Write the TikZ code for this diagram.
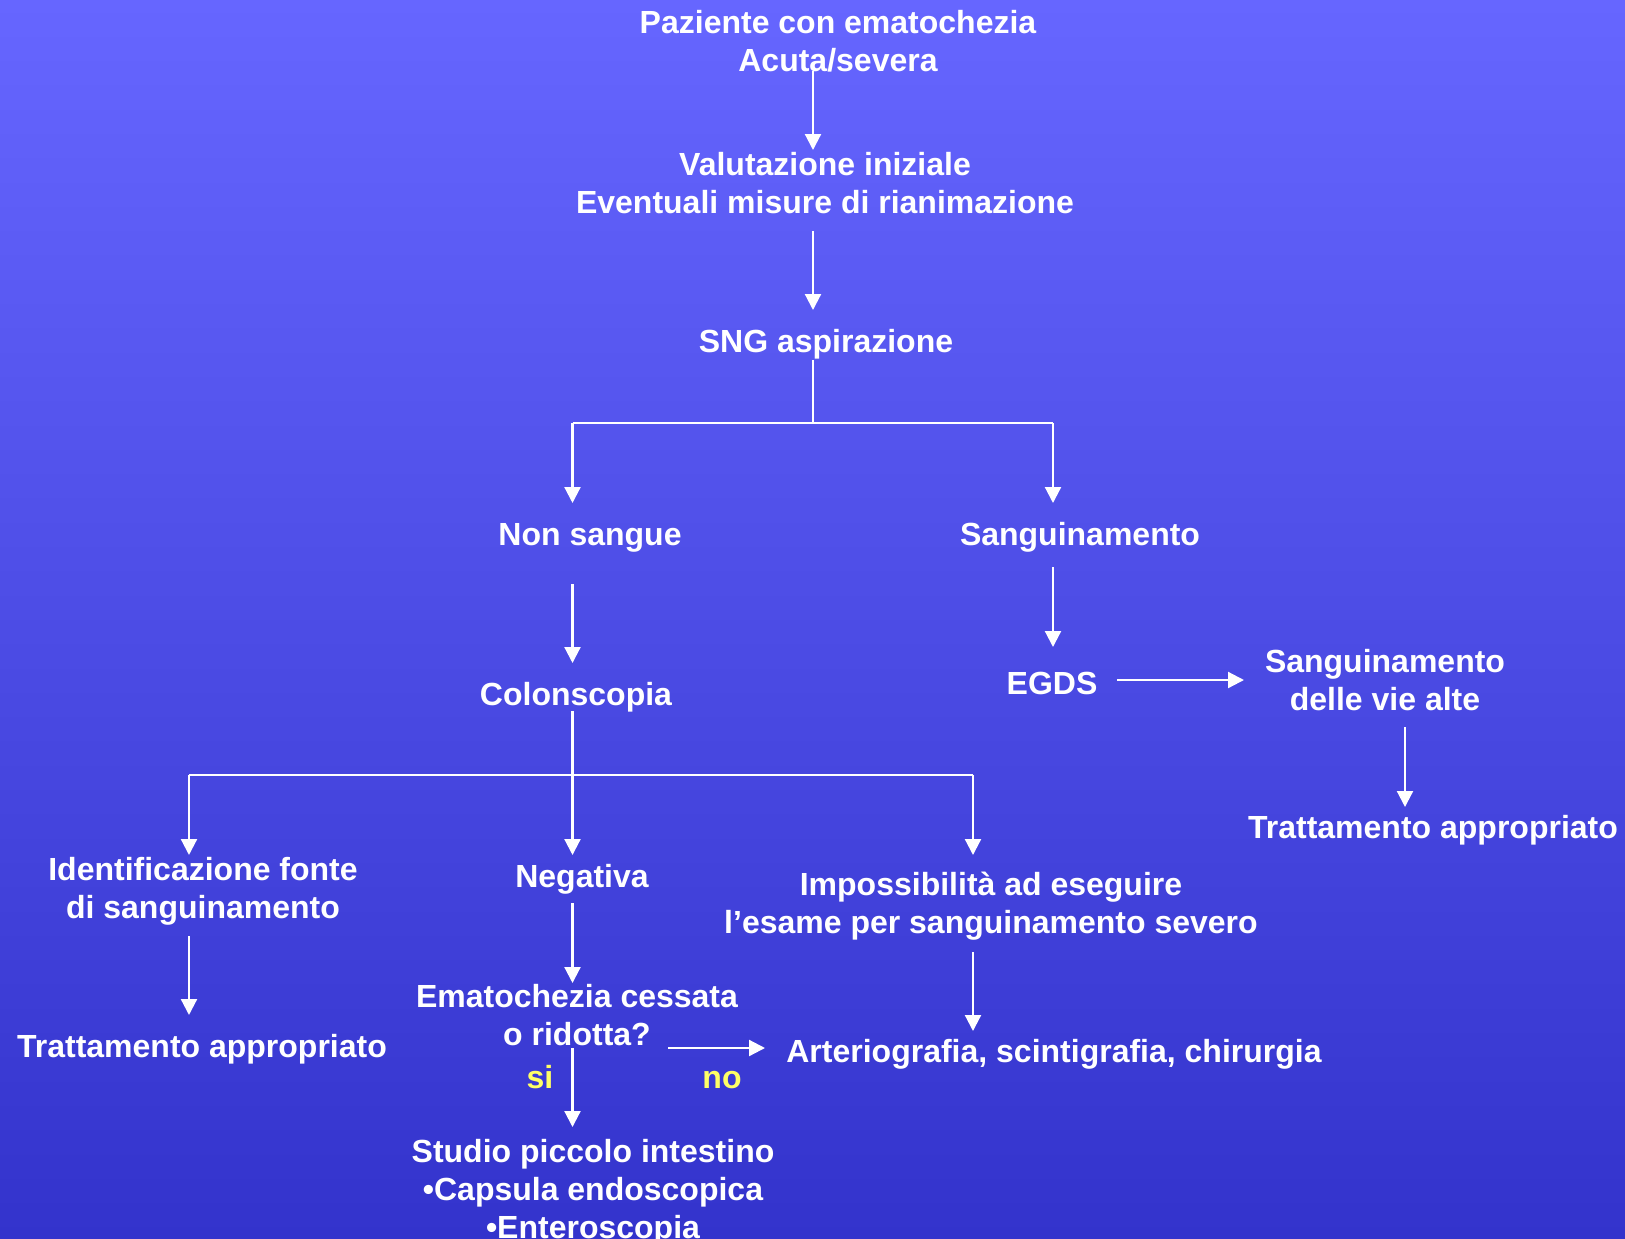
\documentclass[tikz,border=0pt]{standalone}
\usepackage{fontspec}
\setmainfont{Liberation Sans}
\usetikzlibrary{arrows.meta}
\definecolor{bgtop}{RGB}{102,102,255}
\definecolor{bgbot}{RGB}{51,51,204}
\definecolor{lbl}{RGB}{255,255,102}
\begin{document}
\begin{tikzpicture}[x=1pt,y=-1pt,
  txt/.style={anchor=base,inner sep=0pt,outer sep=0pt,align=center,text=white,
    font=\fontsize{32}{38}\selectfont\bfseries},
  ylab/.style={txt,text=lbl},
  conn/.style={draw=white,line width=2.2pt},
  arr/.style={conn,-{Triangle[width=16pt,length=16pt]}}]
\shade[top color=bgtop,bottom color=bgbot] (0,0) rectangle (1625,1239);
\useasboundingbox (0,0) rectangle (1625,1239);
% nodes (base anchor = baseline of the last line)
\node[txt] (paz) at (838,71) {Paziente con ematochezia\\Acuta/severa};
\node[txt] (val) at (825,213.5) {Valutazione iniziale\\Eventuali misure di rianimazione};
\node[txt] (sng) at (826,352) {SNG aspirazione};
\node[txt] (non) at (590,545) {Non sangue};
\node[txt] (sang) at (1080,545) {Sanguinamento};
\node[txt] (col) at (576,705) {Colonscopia};
\node[txt] (egds) at (1052,694) {EGDS};
\node[txt] (alte) at (1385,710.5) {Sanguinamento\\delle vie alte};
\node[txt] (trr) at (1433,838) {Trattamento appropriato};
\node[txt] (idf) at (203,918) {Identificazione fonte\\di sanguinamento};
\node[txt] (neg) at (582,887) {Negativa};
\node[txt] (imp) at (991,933.5) {Impossibilità ad eseguire\\l’esame per sanguinamento severo};
\node[txt] (trl) at (202,1057) {Trattamento appropriato};
\node[txt] (ema) at (577,1045.5) {Ematochezia cessata\\o ridotta?};
\node[txt] (art) at (1054,1062) {Arteriografia, scintigrafia, chirurgia};
\node[ylab] (si) at (540,1088) {si};
\node[ylab] (no) at (722,1088) {no};
\node[txt] (stu) at (593,1238) {Studio piccolo intestino\\•Capsula endoscopica\\•Enteroscopia};
% connector end points
\coordinate (p1a) at (813,71);   \coordinate (p1b) at (813,150);
\coordinate (p2a) at (813,231);  \coordinate (p2b) at (813,310);
\coordinate (s0) at (813,360);   \coordinate (sj) at (813,423);
\coordinate (sl) at (572.5,423); \coordinate (sr) at (1053,423);
\coordinate (slb) at (572.5,503); \coordinate (srb) at (1053,503);
\coordinate (n1) at (572.5,584); \coordinate (n2) at (572.5,663);
\coordinate (g1) at (1053,567);  \coordinate (g2) at (1053,647);
\coordinate (e1) at (1117,680);  \coordinate (e2) at (1244,680);
\coordinate (v1) at (1405,727);  \coordinate (v2) at (1405,807);
\coordinate (c0) at (572.5,711); \coordinate (cj) at (572.5,775);
\coordinate (cl) at (189,775);   \coordinate (cr) at (973,775);
\coordinate (clb) at (189,855);  \coordinate (cmb) at (572.5,855); \coordinate (crb) at (973,855);
\coordinate (i1) at (189,936);   \coordinate (i2) at (189,1015);
\coordinate (ng1) at (572.5,903); \coordinate (ng2) at (572.5,983);
\coordinate (im1) at (973,952);  \coordinate (im2) at (973,1031);
\coordinate (no1) at (668,1048); \coordinate (no2) at (765,1048);
\coordinate (si1) at (572.5,1048); \coordinate (si2) at (572.5,1127);
% connectors
\draw[arr] (p1a) -- (p1b);
\draw[arr] (p2a) -- (p2b);
\draw[conn] (s0) -- (sj);
\draw[conn] (sl) -- (sr);
\draw[arr] (sl) -- (slb);
\draw[arr] (sr) -- (srb);
\draw[arr] (n1) -- (n2);
\draw[arr] (g1) -- (g2);
\draw[arr] (e1) -- (e2);
\draw[arr] (v1) -- (v2);
\draw[conn] (c0) -- (cj);
\draw[conn] (cl) -- (cr);
\draw[arr] (cl) -- (clb);
\draw[arr] (cj) -- (cmb);
\draw[arr] (cr) -- (crb);
\draw[arr] (i1) -- (i2);
\draw[arr] (ng1) -- (ng2);
\draw[arr] (im1) -- (im2);
\draw[arr] (no1) -- (no2);
\draw[arr] (si1) -- (si2);
\end{tikzpicture}
\end{document}
